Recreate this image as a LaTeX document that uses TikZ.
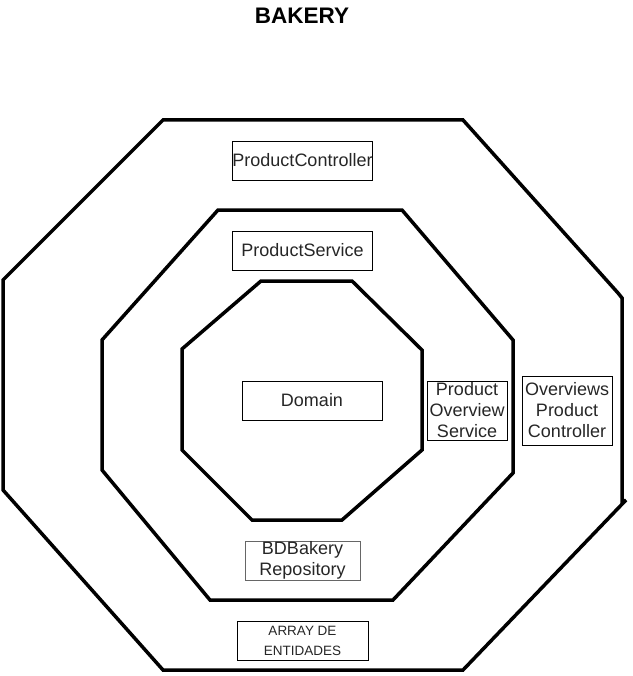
\documentclass[tikz,border=0pt]{standalone}
\usepackage{fontspec}
\setmainfont{Liberation Sans}
\begin{document}
\begin{tikzpicture}[x=1pt,y=-1pt,
  ring/.style={draw=black,line width=3.5pt},
  box/.style={draw=black,line width=0.9pt,inner sep=0pt,align=center,
    text=black!85,font=\fontsize{18}{21}\selectfont},
]
\useasboundingbox (0,0) rectangle (632,676);
% title
\node[font=\fontsize{22.5}{26}\selectfont\bfseries] (title) at (302,16) {BAKERY};
% outer ring
\draw[ring] (163,120) -- (463,120) -- (618,293) -- (622,298) -- (622,503) -- (626,500)
  -- (463,670) -- (163,670) -- (3,490) -- (3,280) -- cycle;
% middle ring
\draw[ring] (218,210) -- (402,210) -- (513,340) -- (513,473) -- (393,600)
  -- (210,600) -- (102,470) -- (102,340) -- cycle;
% inner ring
\draw[ring] (261,281) -- (352,281) -- (422,350) -- (422,450) -- (342,520)
  -- (252,520) -- (182,450) -- (182,349) -- cycle;
% boxes
\node[box,minimum width=139pt,minimum height=39pt] (pc) at (302.5,160.5) {ProductController};
\node[box,minimum width=140pt,minimum height=39pt] (ps) at (302.5,250.5) {ProductService};
\node[box,minimum width=140pt,minimum height=39pt] (dom) at (312,400.5) {Domain};
\node[box,minimum width=80pt,minimum height=59pt] (pos) at (467,410.5) {Product\\Overview\\Service};
\node[box,minimum width=90pt,minimum height=69pt] (opc) at (567,410.5) {Overviews\\Product\\Controller};
\node[box,draw=black!60,minimum width=115pt,minimum height=39pt] (repo) at (302.5,560.5) {BDBakery\\Repository};
\node[box,minimum width=131pt,minimum height=39pt,font=\fontsize{13.5}{20}\selectfont] (arr) at (302.5,640.5) {ARRAY DE\\ENTIDADES};
\end{tikzpicture}
\end{document}
